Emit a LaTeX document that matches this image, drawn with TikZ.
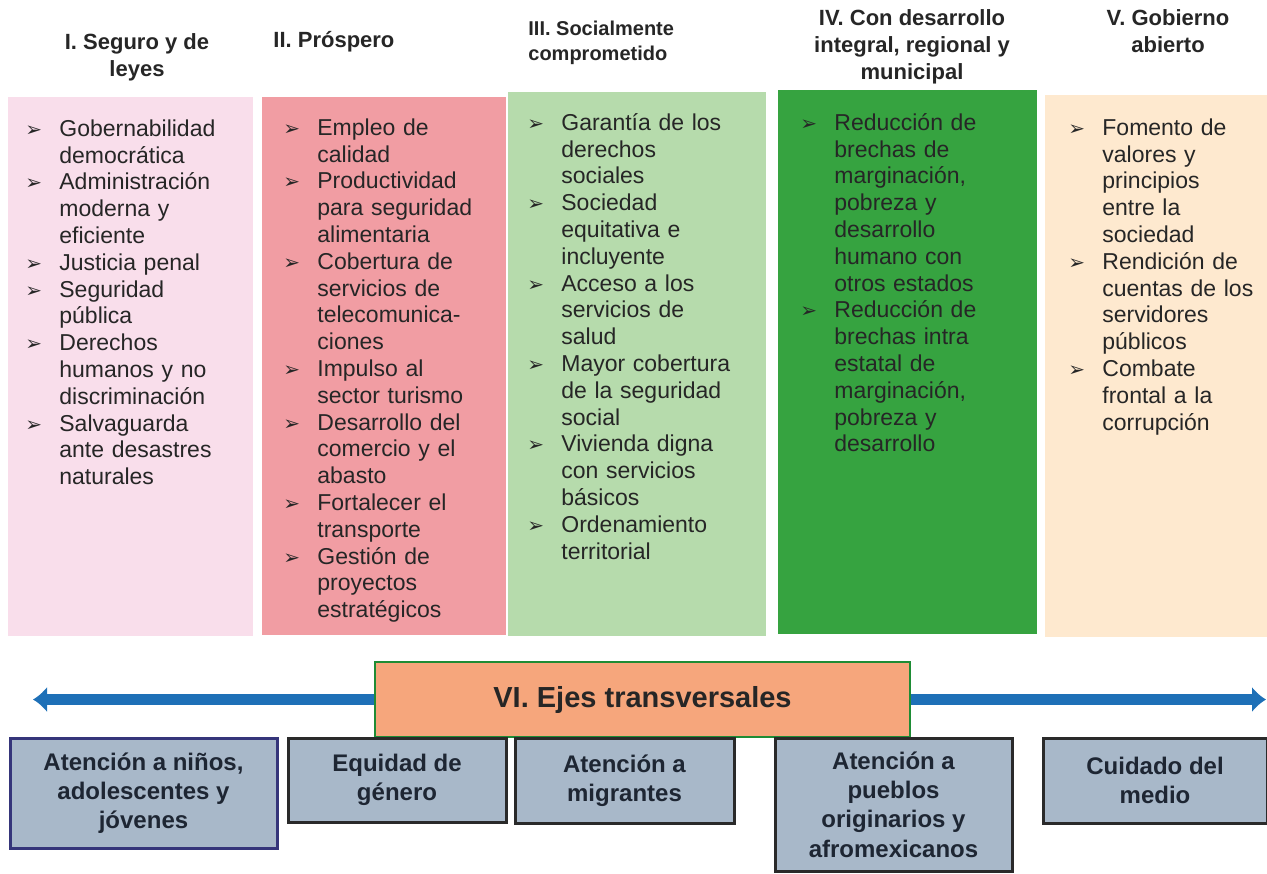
\documentclass[tikz,border=0pt]{standalone}
\usepackage{fontspec}
\setmainfont{Liberation Sans}
\newfontfamily\dingfont{DejaVu Sans}
\usepackage{xcolor}
\usepackage{tikz}
\usetikzlibrary{arrows.meta,positioning}

\definecolor{rosa}{HTML}{F9DEEB}
\definecolor{salmon}{HTML}{F19DA3}
\definecolor{verdecl}{HTML}{B6DBAC}
\definecolor{verde}{HTML}{36A340}
\definecolor{crema}{HTML}{FEE9CF}
\definecolor{naranja}{HTML}{F6A67C}
\definecolor{verdeb}{HTML}{1E8C35}
\definecolor{grisaz}{HTML}{A8B8C9}
\definecolor{azul}{HTML}{1E70B7}
\definecolor{marino}{HTML}{35357A}
\definecolor{borde}{HTML}{2A2A2A}
\definecolor{tinta}{HTML}{262626}
\definecolor{tintab}{HTML}{1E2633}

\newlength{\sangria}
\setlength{\sangria}{17pt}
\newcommand{\vin}{{\dingfont\fontsize{10}{10}\selectfont ➢}}
\newcommand{\itm}[1]{\par\noindent\hangindent=\sangria\hangafter=1\strut\makebox[\sangria][l]{\vin}#1\par}

\begin{document}
\begin{tikzpicture}[x=0.5pt,y=-0.5pt,
	columna/.style={rectangle,inner sep=0pt},
	lista/.style={anchor=north west,inner sep=0pt,text width=140pt,align=left,text=tinta,font=\fontsize{11.5}{13.4}\selectfont},
	cabeza/.style={inner sep=0pt,text=tinta,font=\bfseries\fontsize{11}{13.5}\selectfont,execute at begin node=\strut},
	eje/.style={draw=verdeb,line width=1.3pt,fill=naranja,inner sep=0pt,text=tinta,font=\bfseries\fontsize{14.5}{17}\selectfont},
	caja/.style={draw=borde,line width=1.5pt,fill=grisaz,inner sep=0pt,align=center,text=tintab,font=\bfseries\fontsize{12}{14.6}\selectfont},
	flecha/.style={draw=azul,line width=5.5pt,-{Latex[length=7pt,width=13pt]}}]
	\useasboundingbox (0,0) rectangle (1267,873);

	\node[columna, fill=rosa, minimum width=122.5pt, minimum height=269.5pt] (colI) at (130.5,366.5) {};
	\node[columna, fill=salmon, minimum width=122pt, minimum height=269pt] (colII) at (384,366) {};
	\node[columna, fill=verdecl, minimum width=129pt, minimum height=272pt] (colIII) at (637,364) {};
	\node[columna, fill=verde, minimum width=129.5pt, minimum height=272pt] (colIV) at (907.5,362) {};
	\node[columna, fill=crema, minimum width=111pt, minimum height=271pt] (colV) at (1156,366) {};

	\node[cabeza, anchor=north, align=center] (hI) at (137,33) {I. Seguro y de\\leyes};
	\node[cabeza, anchor=north west, align=left] (hII) at (273,28) {II. Próspero};
	\node[cabeza, anchor=north west, align=left, font=\bfseries\fontsize{10}{12.5}\selectfont] (hIII) at (528,20.5) {III. Socialmente\\comprometido};
	\node[cabeza, anchor=north, align=center] (hIV) at (912,9) {IV. Con desarrollo\\integral, regional y\\municipal};
	\node[cabeza, anchor=north, align=center] (hV) at (1168,9) {V. Gobierno\\abierto};

	\node[lista] (lI) at (25,109) {%
		\itm{Gobernabilidad\newline democrática}
		\itm{Administración\newline moderna y\newline eficiente}
		\itm{Justicia penal}
		\itm{Seguridad\newline pública}
		\itm{Derechos\newline humanos y no\newline discriminación}
		\itm{Salvaguarda\newline ante desastres\newline naturales}};
	\node[lista] (lII) at (283,108) {%
		\itm{Empleo de\newline calidad}
		\itm{Productividad\newline para seguridad\newline alimentaria}
		\itm{Cobertura de\newline servicios de\newline telecomunica-\newline ciones}
		\itm{Impulso al\newline sector turismo}
		\itm{Desarrollo del\newline comercio y el\newline abasto}
		\itm{Fortalecer el\newline transporte}
		\itm{Gestión de\newline proyectos\newline estratégicos}};
	\node[lista] (lIII) at (527,103) {%
		\itm{Garantía de los\newline derechos\newline sociales}
		\itm{Sociedad\newline equitativa e\newline incluyente}
		\itm{Acceso a los\newline servicios de\newline salud}
		\itm{Mayor cobertura\newline de la seguridad\newline social}
		\itm{Vivienda digna\newline con servicios\newline básicos}
		\itm{Ordenamiento\newline territorial}};
	\node[lista] (lIV) at (800,103) {%
		\itm{Reducción de\newline brechas de\newline marginación,\newline pobreza y\newline desarrollo\newline humano con\newline otros estados}
		\itm{Reducción de\newline brechas intra\newline estatal de\newline marginación,\newline pobreza y\newline desarrollo}};
	\node[lista] (lV) at (1068,108) {%
		\itm{Fomento de\newline valores y\newline principios\newline entre la\newline sociedad}
		\itm{Rendición de\newline cuentas de los\newline servidores\newline públicos}
		\itm{Combate\newline frontal a la\newline corrupción}};

	\node[eje, minimum width=267.5pt, minimum height=37.5pt] (ejes) at (642.5,699.5) {VI. Ejes transversales};
	\coordinate (izq) at (33,699.5);
	\coordinate (der) at (1266,699.5);
	\draw[flecha] (ejes.west) -- (izq);
	\draw[flecha] (ejes.east) -- (der);

	\node[caja, draw=marino, minimum width=133.5pt, minimum height=55pt] (ninos) at (143.5,793) {Atención a niños,\\adolescentes y\\jóvenes};
	\node[caja, minimum width=109pt, minimum height=42pt] (genero) at (397,780) {Equidad de\\género};
	\node[caja, minimum width=109.5pt, minimum height=42.5pt] (migrantes) at (624.5,780.5) {Atención a\\migrantes};
	\node[caja, minimum width=118.5pt, minimum height=66.5pt] (pueblos) at (893.5,804.5) {Atención a\\pueblos\\originarios y\\afromexicanos};
	\node[caja, minimum width=112pt, minimum height=42.5pt] (medio) at (1155,780.5) {Cuidado del\\medio};
\end{tikzpicture}
\end{document}
